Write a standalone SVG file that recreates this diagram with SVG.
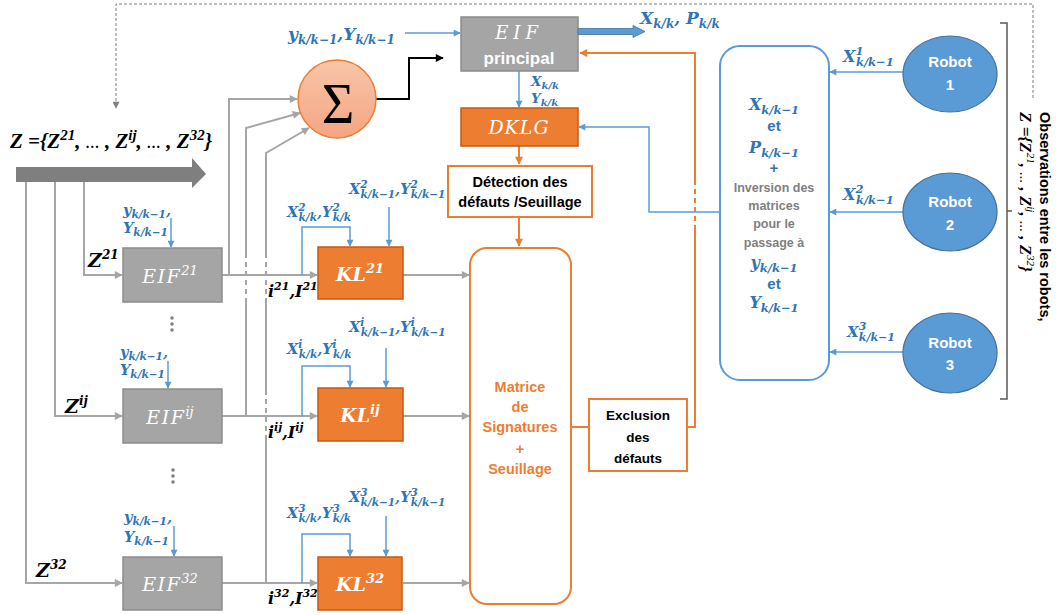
<svg xmlns="http://www.w3.org/2000/svg" width="1058" height="615" viewBox="0 0 1058 615">
<style>
.mb{font-family:"DejaVu Serif","Liberation Serif",serif;font-style:italic;font-weight:bold}
.ml{font-family:"Liberation Serif","DejaVu Serif",serif;font-style:italic;font-weight:bold}
.mr{font-family:"DejaVu Serif","Liberation Serif",serif;font-style:italic;font-weight:normal}
.bl{fill:#2e75b6}
.wh{fill:#fff}
.sans{font-family:"Liberation Sans",Arial,sans-serif;font-weight:bold}
.s{font-size:10.5px}
.eif{fill:#a5a5a5;stroke:#8c8c8c;stroke-width:1.5}
.kl{fill:#ed7d31;stroke:#c55a11;stroke-width:1.5}
.g{fill:none;stroke:#a6a6a6;stroke-width:2}
.gd{fill:none;stroke:#a6a6a6;stroke-width:2;stroke-dasharray:5 4}
.b{fill:none;stroke:#5b9bd5;stroke-width:1.5}
.o{fill:none;stroke:#ed7d31;stroke-width:2}
.od{fill:none;stroke:#ed7d31;stroke-width:2;stroke-dasharray:5 4}
.rob{fill:#5b9bd5;stroke:#41719c;stroke-width:1.2}
</style>
<defs>
<marker id="mg" viewBox="0 0 10 10" refX="9" refY="5" markerWidth="9" markerHeight="8" markerUnits="userSpaceOnUse" orient="auto"><path d="M0,0L10,5L0,10z" fill="#a6a6a6"/></marker>
<marker id="mb" viewBox="0 0 10 10" refX="9" refY="5" markerWidth="8" markerHeight="7" markerUnits="userSpaceOnUse" orient="auto"><path d="M0,0L10,5L0,10z" fill="#5b9bd5"/></marker>
<marker id="mo" viewBox="0 0 10 10" refX="9" refY="5" markerWidth="9" markerHeight="8" markerUnits="userSpaceOnUse" orient="auto"><path d="M0,0L10,5L0,10z" fill="#ed7d31"/></marker>
<marker id="mk" viewBox="0 0 10 10" refX="9" refY="5" markerWidth="9" markerHeight="8" markerUnits="userSpaceOnUse" orient="auto"><path d="M0,0L10,5L0,10z" fill="#000"/></marker>
<marker id="md" viewBox="0 0 10 10" refX="9" refY="5" markerWidth="8" markerHeight="7" markerUnits="userSpaceOnUse" orient="auto"><path d="M0,0L10,5L0,10z" fill="#7f7f7f"/></marker>
<linearGradient id="sg" x1="0" y1="0" x2="0" y2="1"><stop offset="0" stop-color="#f8c6a8"/><stop offset="1" stop-color="#f4a582"/></linearGradient>
</defs>
<rect width="1058" height="615" fill="#fff"/>

<g id="connectors">
<path d="M1033,98V4H116V108" fill="none" stroke="#7f7f7f" stroke-width="1" stroke-dasharray="3 2" marker-end="url(#md)"/>
<path class="g" d="M26,182V583H122" marker-end="url(#mg)"/>
<path class="g" d="M55,182V416H122" marker-end="url(#mg)"/>
<path class="g" d="M84,182V275H122" marker-end="url(#mg)"/>
<path class="g" d="M222,275H317" marker-end="url(#mg)"/>
<path class="g" d="M222,416H317" marker-end="url(#mg)"/>
<path class="g" d="M222,583H317" marker-end="url(#mg)"/>
<path class="g" d="M229,275V99H297" marker-end="url(#mg)"/>
<path class="g" d="M246,416V303"/>
<path class="gd" d="M246,303V257"/>
<path class="g" d="M246,257V128L300,113" marker-end="url(#mg)"/>
<path class="g" d="M266,583V440"/>
<path class="gd" d="M266,440V394"/>
<path class="g" d="M266,394V303"/>
<path class="gd" d="M266,303V257"/>
<path class="g" d="M266,257V153L309,128" marker-end="url(#mg)"/>
<path class="g" d="M403,275H469" marker-end="url(#mg)"/>
<path class="g" d="M403,416H469" marker-end="url(#mg)"/>
<path class="g" d="M403,583H469" marker-end="url(#mg)"/>
<path d="M376,99H409V58H443" fill="none" stroke="#000" stroke-width="2" marker-end="url(#mk)"/>
<path class="b" d="M405,33H460" marker-end="url(#mb)"/>
<path class="b" d="M519,71V107" marker-end="url(#mb)"/>
<path class="b" d="M720,212H649V127H579" marker-end="url(#mb)"/>
<path class="b" d="M903,72H830" marker-end="url(#mb)"/>
<path class="b" d="M903,212H830" marker-end="url(#mb)"/>
<path class="b" d="M903,352H830" marker-end="url(#mb)"/>
<path class="b" d="M171,218V247" marker-end="url(#mb)"/>
<path class="b" d="M168,361V388" marker-end="url(#mb)"/>
<path class="b" d="M174,526V556" marker-end="url(#mb)"/>
<path class="b" d="M302,275V227H350V246" marker-end="url(#mb)"/>
<path class="b" d="M389,207V246" marker-end="url(#mb)"/>
<path class="b" d="M302,416V366H350V387" marker-end="url(#mb)"/>
<path class="b" d="M386,348V387" marker-end="url(#mb)"/>
<path class="b" d="M302,583V534H350V556" marker-end="url(#mb)"/>
<path class="b" d="M386,516V556" marker-end="url(#mb)"/>
<path class="o" d="M519,146V164" marker-end="url(#mo)"/>
<path class="o" d="M519,217V246" marker-end="url(#mo)"/>
<path class="o" d="M571,427H589"/>
<path class="o" d="M687,427H695V230"/>
<path class="od" d="M695,230V183"/>
<path class="o" d="M695,183V53H580" marker-end="url(#mo)"/>
<path d="M1000,23H1007V399H1000M1007,211H1012" fill="none" stroke="#595959" stroke-width="1.5"/>
</g>

<g id="z-input">
<path d="M16,167H192V158L206,174L192,188V182H16Z" fill="#7f7f7f"/>
<text class="ml" x="10" y="148" font-size="21">Z =<tspan>{Z</tspan><tspan font-size="15" dy="-8">21</tspan><tspan dy="8">, </tspan><tspan font-size="14">…</tspan><tspan> , Z</tspan><tspan font-size="15" dy="-8">ij</tspan><tspan dy="8">, </tspan><tspan font-size="14">…</tspan><tspan> , Z</tspan><tspan font-size="15" dy="-8">32</tspan><tspan dy="8">}</tspan></text>
</g>

<g id="eif-principal">
<rect x="461" y="17" width="117" height="54" fill="#a5a5a5" stroke="#8c8c8c" stroke-width="1.5"/>
<text class="mr wh" x="519" y="39" font-size="18" text-anchor="middle" letter-spacing="5">EIF</text>
<text class="sans wh" x="519" y="64" font-size="17" text-anchor="middle">principal</text>
</g>
<text class="mb bl" x="288" y="40" font-size="17">y<tspan font-size="12" dy="4">k/k−1</tspan><tspan dy="-4">,Y</tspan><tspan font-size="12" dy="4">k/k−1</tspan></text>
<path d="M578,28.5H633V25.5L645,31.5L633,37.5V34.5H578Z" fill="#5b9bd5" stroke="#41719c" stroke-width="0.8"/>
<text class="mb bl" x="640" y="24" font-size="17">X<tspan font-size="12" dy="4">k/k</tspan><tspan dy="-4">, P</tspan><tspan font-size="12" dy="4">k/k</tspan></text>
<text class="mb bl" x="531" y="86" font-size="13.5">X<tspan font-size="10" dy="3">k/k</tspan></text>
<text class="mb bl" x="531" y="103" font-size="13.5">Y<tspan font-size="10" dy="3">k/k</tspan></text>

<g id="sigma">
<circle cx="337" cy="99" r="39" fill="url(#sg)" stroke="#ed7d31" stroke-width="1.5"/>
<text x="338" y="123" font-family="Liberation Serif,serif" font-size="56" text-anchor="middle">Σ</text>
</g>

<g id="dklg">
<rect x="461" y="108" width="117" height="38" fill="#ed7d31" stroke="#c55a11" stroke-width="1.5"/>
<text class="mr wh" x="519" y="134" font-size="19" text-anchor="middle" letter-spacing="1">DKLG</text>
</g>

<g id="detection">
<rect x="448" y="166" width="144" height="51" fill="#fff" stroke="#ed7d31" stroke-width="2"/>
<text class="sans" x="520" y="187" font-size="14.5" text-anchor="middle">Détection des</text>
<text class="sans" x="520" y="207" font-size="14.5" text-anchor="middle">défauts /Seuillage</text>
</g>

<g id="matrice">
<rect x="470" y="248" width="101" height="356" rx="17" fill="#fff" stroke="#ed7d31" stroke-width="2"/>
<g class="sans" fill="#ed7d31" font-size="14.5" text-anchor="middle">
<text x="520" y="392">Matrice</text>
<text x="520" y="412">de</text>
<text x="520" y="432">Signatures</text>
<text x="520" y="454">+</text>
<text x="520" y="474">Seuillage</text>
</g>
</g>

<g id="exclusion">
<rect x="589" y="399" width="98" height="72" fill="#fff" stroke="#ed7d31" stroke-width="2"/>
<g class="sans" font-size="13.5" text-anchor="middle">
<text x="638" y="420">Exclusion</text>
<text x="638" y="442">des</text>
<text x="638" y="463">défauts</text>
</g>
</g>

<g id="eif21">
<rect class="eif" x="123" y="248" width="99" height="54"/>
<text class="mr wh" x="170" y="283" font-size="19" text-anchor="middle" letter-spacing="1.5">EIF<tspan font-size="13" dy="-8" letter-spacing="0">21</tspan></text>
</g>
<g id="eifij">
<rect class="eif" x="123" y="389" width="99" height="54"/>
<text class="mr wh" x="170" y="424" font-size="19" text-anchor="middle" letter-spacing="1.5">EIF<tspan font-size="13" dy="-8" letter-spacing="0">ij</tspan></text>
</g>
<g id="eif32">
<rect class="eif" x="123" y="557" width="99" height="53"/>
<text class="mr wh" x="170" y="591" font-size="19" text-anchor="middle" letter-spacing="1.5">EIF<tspan font-size="13" dy="-8" letter-spacing="0">32</tspan></text>
</g>

<g id="kl21">
<rect class="kl" x="318" y="247" width="85" height="52"/>
<text class="mb wh" x="360" y="281" font-size="19" text-anchor="middle">KL<tspan font-size="13" dy="-8">21</tspan></text>
</g>
<g id="klij">
<rect class="kl" x="318" y="388" width="85" height="53"/>
<text class="mb wh" x="360" y="422" font-size="19" text-anchor="middle">KL<tspan font-size="13" dy="-8">ij</tspan></text>
</g>
<g id="kl32">
<rect class="kl" x="318" y="557" width="84" height="53"/>
<text class="mb wh" x="360" y="591" font-size="19" text-anchor="middle">KL<tspan font-size="13" dy="-8">32</tspan></text>
</g>

<g id="left-labels" class="mb">
<text x="88" y="267" font-size="19">Z<tspan font-size="12" dy="-8">21</tspan></text>
<text x="65" y="413" font-size="19">Z<tspan font-size="12" dy="-8">ij</tspan></text>
<text x="36" y="577" font-size="19">Z<tspan font-size="12" dy="-8">32</tspan></text>
<text x="268" y="297" font-size="16">i<tspan font-size="11" dy="-7">21</tspan><tspan dy="7">,I</tspan><tspan font-size="11" dy="-7">21</tspan></text>
<text x="268" y="438" font-size="16">i<tspan font-size="11" dy="-7">ij</tspan><tspan dy="7">,I</tspan><tspan font-size="11" dy="-7">ij</tspan></text>
<text x="268" y="604" font-size="16">i<tspan font-size="11" dy="-7">32</tspan><tspan dy="7">,I</tspan><tspan font-size="11" dy="-7">32</tspan></text>
</g>

<g id="blue-labels" class="mb bl">
<text x="123" y="215" font-size="14.5">y<tspan class="s" dy="3">k/k−1</tspan><tspan dy="-3">,</tspan></text>
<text x="123" y="233" font-size="14.5">Y<tspan class="s" dy="3">k/k−1</tspan></text>
<text x="120" y="357" font-size="14.5">y<tspan class="s" dy="3">k/k−1</tspan><tspan dy="-3">,</tspan></text>
<text x="120" y="375" font-size="14.5">Y<tspan class="s" dy="3">k/k−1</tspan></text>
<text x="124" y="522" font-size="14.5">y<tspan class="s" dy="3">k/k−1</tspan><tspan dy="-3">,</tspan></text>
<text x="124" y="542" font-size="14.5">Y<tspan class="s" dy="3">k/k−1</tspan></text>

<text x="287" y="217" font-size="14.5">X<tspan class="s" dy="-6">2</tspan><tspan class="s" dx="-7" dy="10">k/k</tspan><tspan dy="-4">,Y</tspan><tspan class="s" dy="-6">2</tspan><tspan class="s" dx="-7" dy="10">k/k</tspan></text>
<text x="349" y="194" font-size="14.5">X<tspan class="s" dy="-6">2</tspan><tspan class="s" dx="-7" dy="10">k/k−1</tspan><tspan dy="-4">,Y</tspan><tspan class="s" dy="-6">2</tspan><tspan class="s" dx="-7" dy="10">k/k−1</tspan></text>
<text x="287" y="354" font-size="14.5">X<tspan class="s" dy="-6">i</tspan><tspan class="s" dx="-3.5" dy="10">k/k</tspan><tspan dy="-4">,Y</tspan><tspan class="s" dy="-6">i</tspan><tspan class="s" dx="-3.5" dy="10">k/k</tspan></text>
<text x="349" y="332" font-size="14.5">X<tspan class="s" dy="-6">i</tspan><tspan class="s" dx="-3.5" dy="10">k/k−1</tspan><tspan dy="-4">,Y</tspan><tspan class="s" dy="-6">i</tspan><tspan class="s" dx="-3.5" dy="10">k/k−1</tspan></text>
<text x="287" y="518" font-size="14.5">X<tspan class="s" dy="-6">3</tspan><tspan class="s" dx="-7" dy="10">k/k</tspan><tspan dy="-4">,Y</tspan><tspan class="s" dy="-6">3</tspan><tspan class="s" dx="-7" dy="10">k/k</tspan></text>
<text x="349" y="502" font-size="14.5">X<tspan class="s" dy="-6">3</tspan><tspan class="s" dx="-7" dy="10">k/k−1</tspan><tspan dy="-4">,Y</tspan><tspan class="s" dy="-6">3</tspan><tspan class="s" dx="-7" dy="10">k/k−1</tspan></text>

<text x="843" y="62" font-size="16">X<tspan font-size="11.5" dy="-7">1</tspan><tspan font-size="11.5" dx="-7.5" dy="11">k/k−1</tspan></text>
<text x="843" y="200" font-size="16">X<tspan font-size="11.5" dy="-7">2</tspan><tspan font-size="11.5" dx="-7.5" dy="11">k/k−1</tspan></text>
<text x="847" y="337" font-size="15">X<tspan font-size="11" dy="-7">3</tspan><tspan font-size="11" dx="-7.5" dy="11">k/k−1</tspan></text>
</g>

<g id="prediction-box">
<rect x="720" y="46" width="109" height="334" rx="20" fill="#fff" stroke="#5b9bd5" stroke-width="2"/>
<g text-anchor="middle">
<text class="mb bl" x="774" y="110" font-size="16">X<tspan font-size="11.5" dy="4">k/k−1</tspan></text>
<text class="sans bl" x="774" y="131" font-size="15">et</text>
<text class="mb bl" x="774" y="153" font-size="16">P<tspan font-size="11.5" dy="4">k/k−1</tspan></text>
<text class="sans bl" x="774" y="173" font-size="15">+</text>
<g class="sans" fill="#7f7f7f" font-size="12.5">
<text x="774" y="192">Inversion des</text>
<text x="774" y="210">matrices</text>
<text x="774" y="228">pour le</text>
<text x="774" y="247">passage à</text>
</g>
<text class="mb bl" x="774" y="268" font-size="16">y<tspan font-size="11.5" dy="4">k/k−1</tspan></text>
<text class="sans bl" x="774" y="289" font-size="15">et</text>
<text class="mb bl" x="774" y="308" font-size="16">Y<tspan font-size="11.5" dy="4">k/k−1</tspan></text>
</g>
</g>

<g id="robot1">
<ellipse class="rob" cx="950" cy="74" rx="47" ry="38"/>
<text class="sans wh" x="950" y="67" font-size="15" text-anchor="middle">Robot</text>
<text class="sans wh" x="950" y="90" font-size="15" text-anchor="middle">1</text>
</g>
<g id="robot2">
<ellipse class="rob" cx="950" cy="212" rx="47" ry="39"/>
<text class="sans wh" x="950" y="207" font-size="15" text-anchor="middle">Robot</text>
<text class="sans wh" x="950" y="230" font-size="15" text-anchor="middle">2</text>
</g>
<g id="robot3">
<ellipse class="rob" cx="950" cy="353" rx="47" ry="40"/>
<text class="sans wh" x="950" y="348" font-size="15" text-anchor="middle">Robot</text>
<text class="sans wh" x="950" y="370" font-size="15" text-anchor="middle">3</text>
</g>

<g id="observations">
<text class="sans" transform="translate(1040,112) rotate(90)" font-size="14.5">Observations entre les robots,</text>
<text class="ml" transform="translate(1020,112) rotate(90)" font-size="17">Z =<tspan>{Z</tspan><tspan font-size="11" font-weight="normal" dy="-7">21</tspan><tspan dy="7">, </tspan><tspan font-size="11">…</tspan><tspan> , Z</tspan><tspan font-size="11" font-weight="normal" dy="-7">ij</tspan><tspan dy="7">, </tspan><tspan font-size="11">…</tspan><tspan> , Z</tspan><tspan font-size="11" font-weight="normal" dy="-7">32</tspan><tspan dy="7">}</tspan></text>
</g>

<g id="dots" fill="#808080">
<circle cx="172" cy="318" r="1.8"/><circle cx="172" cy="324" r="1.8"/><circle cx="172" cy="330" r="1.8"/>
<circle cx="173" cy="470" r="1.8"/><circle cx="173" cy="476" r="1.8"/><circle cx="173" cy="482" r="1.8"/>
</g>
</svg>
